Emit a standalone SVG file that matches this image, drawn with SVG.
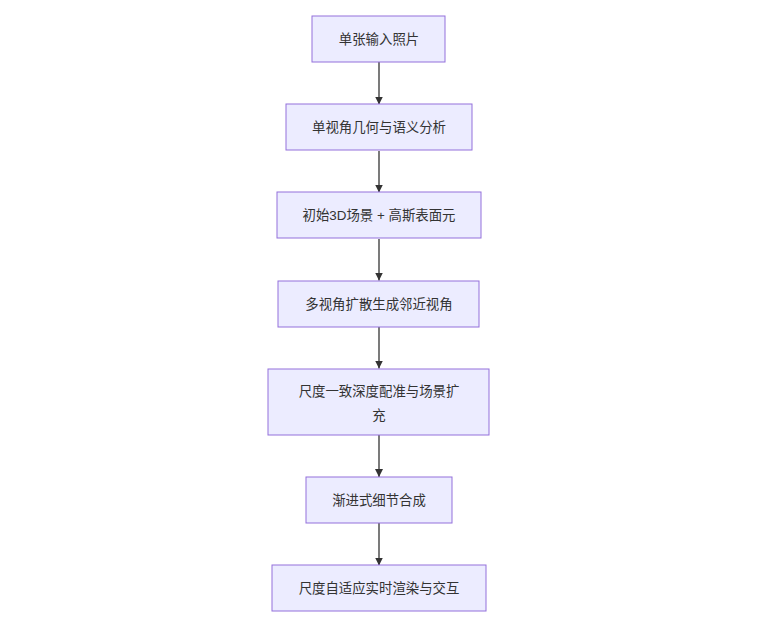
<svg xmlns="http://www.w3.org/2000/svg" width="760" height="624" viewBox="0 0 760 624">
<style>
.node rect{fill:#ECECFF;stroke:#9370DB;stroke-width:1}
.node text{font-family:"Liberation Sans","Noto Sans CJK SC",sans-serif;font-size:13.4px;fill:#333;text-anchor:middle}
.edge{stroke:#333;stroke-width:1.3;fill:none;marker-end:url(#arr)}
</style>
<defs>
<marker id="arr" viewBox="0 0 10 10" refX="10" refY="5" markerUnits="userSpaceOnUse" markerWidth="8" markerHeight="8" orient="auto">
<path d="M0,0 L10,5 L0,10 z" fill="#333"/>
</marker>
</defs>
<rect width="760" height="624" fill="#fff"/>
<g id="edges">
<line class="edge" x1="379" y1="62" x2="379" y2="104.5"/>
<line class="edge" x1="379" y1="151" x2="379" y2="192.5"/>
<line class="edge" x1="379" y1="239" x2="379" y2="280.5"/>
<line class="edge" x1="379" y1="327" x2="379" y2="368.5"/>
<line class="edge" x1="379" y1="435" x2="379" y2="477"/>
<line class="edge" x1="379" y1="523" x2="379" y2="565.5"/>
</g>
<g id="n1" class="node"><rect x="312" y="16" width="133" height="46"/><text x="379" y="44">单张输入照片</text></g>
<g id="n2" class="node"><rect x="286" y="104" width="186" height="46"/><text x="379" y="132">单视角几何与语义分析</text></g>
<g id="n3" class="node"><rect x="277" y="192" width="204" height="46"/><text x="379" y="220">初始3D场景 + 高斯表面元</text></g>
<g id="n4" class="node"><rect x="278" y="281" width="201" height="46"/><text x="379" y="308.5">多视角扩散生成邻近视角</text></g>
<g id="n5" class="node"><rect x="268" y="369" width="221" height="66"/><text x="379" y="395.5">尺度一致深度配准与场景扩</text><text x="379" y="419.5">充</text></g>
<g id="n6" class="node"><rect x="306" y="477" width="146" height="46"/><text x="379" y="504.5">渐进式细节合成</text></g>
<g id="n7" class="node"><rect x="272" y="565" width="214" height="46"/><text x="379" y="592.5">尺度自适应实时渲染与交互</text></g>
</svg>
